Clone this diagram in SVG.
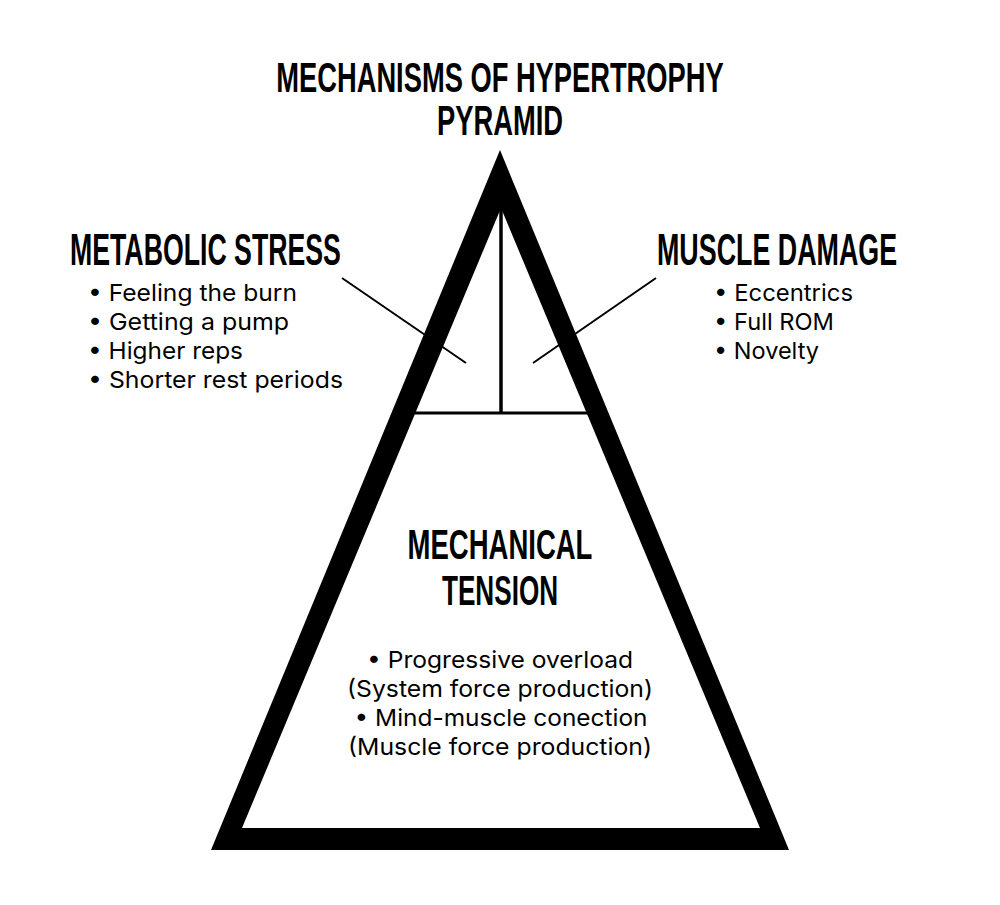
<svg xmlns="http://www.w3.org/2000/svg" width="1000" height="905" viewBox="0 0 1000 905">
<style>
.h{font-family:"Liberation Sans",Arial,sans-serif;font-weight:700;fill:#000}
.b{font-family:Inter,"Noto Sans",sans-serif;font-size:23.5px;fill:#000}
.c{stroke:#000;fill:none}
</style>
<rect width="1000" height="905" fill="#fff"/>
<g id="title">
<text class="h" transform="translate(500,92) scale(0.7,1)" font-size="42" text-anchor="middle" textLength="639" lengthAdjust="spacingAndGlyphs">MECHANISMS OF HYPERTROPHY</text>
<text class="h" transform="translate(500,135) scale(0.7,1)" font-size="42" text-anchor="middle" textLength="180" lengthAdjust="spacingAndGlyphs">PYRAMID</text>
</g>
<g id="pyramid">
<polygon points="500,150 211,850 789,850" fill="#000"/>
<polygon points="501,208 242,828 760,828" fill="#fff"/>
<line class="c" x1="501" y1="208" x2="501" y2="413" stroke-width="3.5"/>
<line class="c" x1="412" y1="413" x2="590" y2="413" stroke-width="3"/>
</g>
<g id="connectors">
<line class="c" x1="342" y1="278" x2="466" y2="363" stroke-width="2"/>
<line class="c" x1="656" y1="278" x2="533" y2="363" stroke-width="2"/>
</g>
<g id="metabolic-stress">
<text class="h" transform="translate(70,265) scale(0.7,1)" font-size="44" textLength="387" lengthAdjust="spacingAndGlyphs">METABOLIC STRESS</text>
<text class="b" x="88" y="301" textLength="209" lengthAdjust="spacingAndGlyphs">• Feeling the burn</text>
<text class="b" x="88" y="330" textLength="201" lengthAdjust="spacingAndGlyphs">• Getting a pump</text>
<text class="b" x="88" y="359" textLength="155" lengthAdjust="spacingAndGlyphs">• Higher reps</text>
<text class="b" x="88" y="388" textLength="255" lengthAdjust="spacingAndGlyphs">• Shorter rest periods</text>
</g>
<g id="muscle-damage">
<text class="h" transform="translate(657,265) scale(0.7,1)" font-size="44" textLength="343" lengthAdjust="spacingAndGlyphs">MUSCLE DAMAGE</text>
<text class="b" x="714" y="301" textLength="139" lengthAdjust="spacingAndGlyphs">• Eccentrics</text>
<text class="b" x="714" y="330" textLength="120" lengthAdjust="spacingAndGlyphs">• Full ROM</text>
<text class="b" x="714" y="359" textLength="105" lengthAdjust="spacingAndGlyphs">• Novelty</text>
</g>
<g id="mechanical-tension">
<text class="h" transform="translate(500,559) scale(0.7,1)" font-size="43" text-anchor="middle" textLength="264" lengthAdjust="spacingAndGlyphs">MECHANICAL</text>
<text class="h" transform="translate(500,605) scale(0.7,1)" font-size="43" text-anchor="middle" textLength="166" lengthAdjust="spacingAndGlyphs">TENSION</text>
<text class="b" x="500" y="668" text-anchor="middle" textLength="266" lengthAdjust="spacingAndGlyphs">• Progressive overload</text>
<text class="b" x="500" y="697" text-anchor="middle" textLength="306" lengthAdjust="spacingAndGlyphs">(System force production)</text>
<text class="b" x="501" y="726" text-anchor="middle" textLength="293" lengthAdjust="spacingAndGlyphs">• Mind-muscle conection</text>
<text class="b" x="500" y="755" text-anchor="middle" textLength="304" lengthAdjust="spacingAndGlyphs">(Muscle force production)</text>
</g>
</svg>
